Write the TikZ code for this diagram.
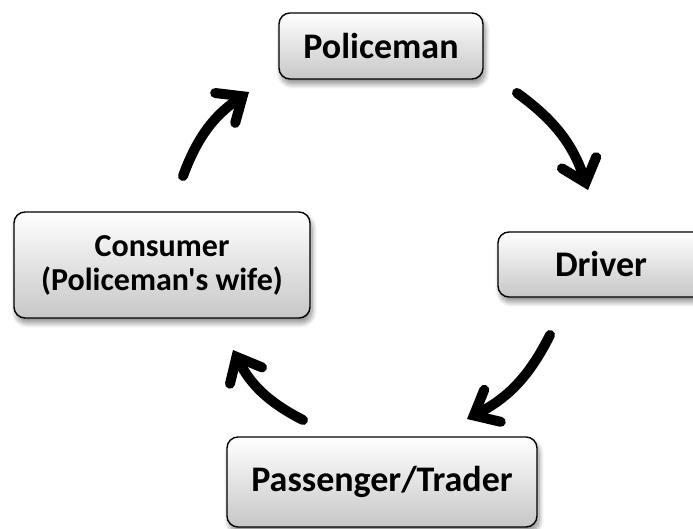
\documentclass[tikz,border=0pt]{standalone}
\usepackage{fontspec}
\setmainfont{Carlito}[Ligatures=TeXOff]
\usetikzlibrary{arrows.meta,shadows.blur}

\tikzset{
  rolebox/.style={
    draw=black, line width=1.4pt, rounded corners=11pt,
    top color=white, bottom color=black!22,
    blur shadow={shadow xshift=2pt, shadow yshift=-5pt,
                 shadow blur radius=5pt, shadow blur steps=10, shadow opacity=45},
    font=\fontsize{36}{40}\selectfont\bfseries, inner sep=0pt, align=center
  },
  flow/.style={
    line width=10pt, line cap=round,
    -{Straight Barb[length=21pt, width=36pt, line cap=round, line join=miter]}
  }
}

\begin{document}
\begin{tikzpicture}[x=1pt, y=1pt]
  \useasboundingbox (0,0) rectangle (693,528);
  \clip (0,0) rectangle (693,528);

  % the four roles in the cycle
  \node[rolebox, minimum width=204pt, minimum height=66pt] (police) at (381,482) {Policeman};
  \node[rolebox, minimum width=206pt, minimum height=65pt] (driver) at (601,263.5) {Driver};
  \node[rolebox, minimum width=296pt, minimum height=106pt,
        font=\fontsize{32}{34}\selectfont\bfseries] (consumer) at (162,263)
        {Consumer\\(Policeman's wife)};
  \node[rolebox, minimum width=310pt, minimum height=90pt] (trader) at (382,46) {Passenger/Trader};

  % arrow end points between the boxes
  \coordinate (c2p) at (183,352);  \coordinate (p2c) at (249,436);
  \coordinate (p2d) at (517,435);  \coordinate (d2p) at (588,338);
  \coordinate (d2t) at (550,193);  \coordinate (t2d) at (467,109);
  \coordinate (t2c) at (303,108);  \coordinate (c2t) at (233,178);

  % clockwise flow
  \draw[flow] (c2p) to[bend left=18] (p2c);
  \draw[flow] (p2d) to[bend left=18] (d2p);
  \draw[flow] (d2t) to[bend left=18] (t2d);
  \draw[flow] (t2c) to[bend left=18] (c2t);
\end{tikzpicture}
\end{document}
